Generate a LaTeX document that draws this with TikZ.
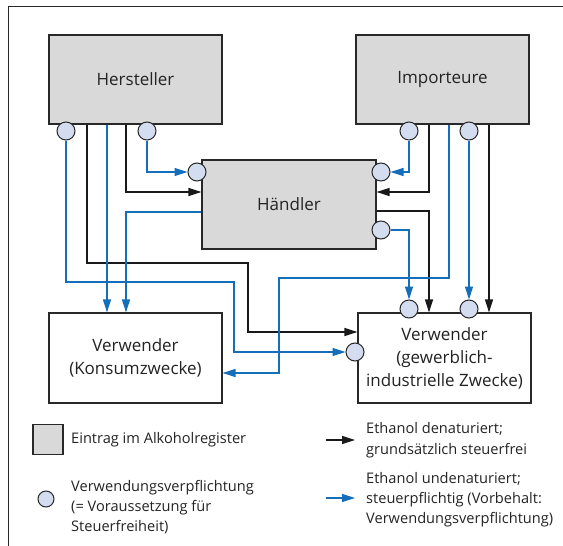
\documentclass[tikz,border=0pt]{standalone}
\usepackage{fontspec}
\setmainfont{Open Sans}
\usetikzlibrary{arrows.meta}
\definecolor{lblue}{RGB}{20,110,185}
\definecolor{boxgray}{RGB}{217,217,217}
\definecolor{circfill}{RGB}{212,220,240}
\definecolor{edge}{RGB}{40,40,40}
\definecolor{txt}{RGB}{35,35,35}
\tikzset{
  regbox/.style={draw=edge, line width=1.1pt, fill=boxgray, minimum width=173pt, minimum height=89pt, inner sep=0pt, text=txt, font=\fontsize{17}{23}\selectfont, align=center},
  usebox/.style={draw=edge, line width=1.1pt, fill=white, minimum width=173pt, minimum height=90pt, inner sep=0pt, text=txt, font=\fontsize{17}{23}\selectfont, align=center},
  obl/.style={circle, draw=edge, line width=1pt, fill=circfill, minimum size=18pt, inner sep=0pt},
  blk/.style={draw=black!90, line width=1.2pt, -{Triangle[length=13pt,width=8pt]}},
  blu/.style={draw=lblue, line width=1.2pt, -{Triangle[length=13pt,width=8pt]}},
  legtext/.style={anchor=west, align=left, inner sep=0pt, text=txt, font=\fontsize{14.6}{20}\selectfont},
}
\begin{document}
\begin{tikzpicture}[x=1pt,y=-1pt]
\useasboundingbox (0,0) rectangle (563,546);
% frame
\draw[edge, line width=1pt] (8,550) -- (8,6) -- (570,6);
% boxes
\node[regbox] (H) at (135.5,79.5) {Hersteller};
\node[regbox] (I) at (442.5,79.5) {Importeure};
\node[regbox, minimum width=174pt] (HA) at (289,204.5) {Händler};
\node[usebox] (VK) at (135.5,358) {Verwender\\(Konsumzwecke)};
\node[usebox] (VG) at (444.5,358) {Verwender\\(gewerblich-\\industrielle Zwecke)};
% circles
\node[obl] (h1) at (66,131) {};
\node[obl] (h2) at (147,131) {};
\node[obl] (i1) at (409,131) {};
\node[obl] (i2) at (469,131) {};
\node[obl] (ha1) at (197,172) {};
\node[obl] (ha2) at (381,172) {};
\node[obl] (ha3) at (381,230) {};
\node[obl] (vg1) at (409,309) {};
\node[obl] (vg2) at (469,309) {};
\node[obl] (vg3) at (355,352) {};
% black connectors
\draw[blk] (87,0 |- H.south) -- (87,263) -- (248,263) -- (248,332) -- (VG.west |- 0,332);
\draw[blk] (126,0 |- H.south) -- (126,192) -- (HA.west |- 0,192);
\draw[blk] (429,0 |- I.south) -- (429,192) -- (HA.east |- 0,192);
\draw[blk] (HA.east |- 0,211) -- (429,211) -- (429,0 |- VG.north);
\draw[blk] (489,0 |- I.south) -- (489,0 |- VG.north);
% blue connectors
\draw[blu] (h1.south) -- (66,282) -- (234,282) -- (234,352) -- (vg3.west);
\draw[blu] (107,0 |- H.south) -- (107,0 |- VK.north);
\draw[blu] (h2.south) |- (ha1.west);
\draw[blu] (HA.west |- 0,212) -- (126,212) -- (126,0 |- VK.north);
\draw[blu] (i1.south) |- (ha2.east);
\draw[blu] (449,0 |- I.south) -- (449,278) -- (279,278) -- (279,373) -- (VK.east |- 0,373);
\draw[blu] (i2.south) -- (vg2.north);
\draw[blu] (ha3.east) -| (vg1.north);
% legend
\node[draw=edge, line width=1.1pt, fill=boxgray, minimum size=30pt, inner sep=0pt] (lsq) at (48,439.5) {};
\node[legtext] (lsqt) at (71,440) {Eintrag im Alkoholregister};
\node[obl, minimum size=16pt] (lci) at (46,499) {};
\node[legtext] (lcit) at (71,507) {Verwendungsverpflichtung\\(= Voraussetzung für\\Steuerfreiheit)};
\coordinate (lb1) at (326,440);
\coordinate (lb2) at (355,440);
\draw[blk] (lb1) -- (lb2);
\node[legtext, font=\fontsize{14.6}{21}\selectfont] (lbt) at (366,440.5) {Ethanol denaturiert;\\grundsätzlich steuerfrei};
\coordinate (lu1) at (326,498);
\coordinate (lu2) at (355,498);
\draw[blu] (lu1) -- (lu2);
\node[legtext] (lut) at (366,499.5) {Ethanol undenaturiert;\\steuerpflichtig (Vorbehalt:\\Verwendungsverpflichtung)};
\end{tikzpicture}
\end{document}
